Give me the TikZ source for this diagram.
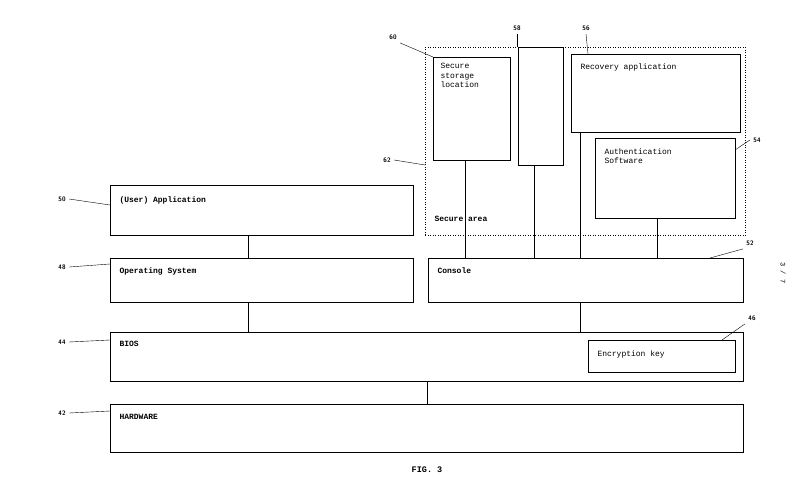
\documentclass[tikz,border=0pt]{standalone}
\usepackage{fontspec}
\setmainfont{Liberation Mono}
\usetikzlibrary{positioning}
\tikzset{
  blk/.style={draw, line width=0.5pt, anchor=north west, inner sep=0pt},
  txt/.style={anchor=north west, font=\fontsize{8}{9.5}\selectfont, align=left},
  btxt/.style={txt, font=\bfseries\fontsize{8}{9.5}\selectfont},
  num/.style={font=\bfseries\fontsize{6.5}{7}\selectfont\sffamily},
  lead/.style={line width=0.4pt}
}
\begin{document}
\begin{tikzpicture}[x=1pt,y=-1pt]
    \useasboundingbox (0,0) rectangle (800,490);
    % Secure area
    \node[blk, dotted, line width=0.9pt, minimum width=320pt, minimum height=188pt] (sec) at (425,47) {};
    \node[btxt] at (431,213) {Secure area};
    \node[blk, minimum width=77pt, minimum height=103pt] (sto) at (433,57) {};
    \node[txt] at (437,60) {Secure\\storage\\location};
    \node[blk, minimum width=45pt, minimum height=118pt] (blk58) at (518,47) {};
    \node[blk, minimum width=169pt, minimum height=78pt] (rec) at (571,54) {};
    \node[txt] at (577,60) {Recovery application};
    \node[blk, minimum width=140pt, minimum height=80pt] (auth) at (595,138) {};
    \node[txt] at (601,145) {Authentication\\Software};
    % Layers
    \node[blk, minimum width=303pt, minimum height=50pt] (app) at (110,185) {};
    \node[btxt] at (116,193) {(User) Application};
    \node[blk, minimum width=303pt, minimum height=44pt] (os) at (110,258) {};
    \node[btxt] at (116,264) {Operating System};
    \node[blk, minimum width=315pt, minimum height=44pt] (con) at (428,258) {};
    \node[btxt] at (434,264) {Console};
    \node[blk, minimum width=633pt, minimum height=49pt] (bios) at (110,332) {};
    \node[btxt] at (116,338) {BIOS};
    \node[blk, minimum width=147pt, minimum height=32pt] (key) at (588,340) {};
    \node[txt] at (594,347) {Encryption key};
    \node[blk, minimum width=633pt, minimum height=48pt] (hw) at (110,404) {};
    \node[btxt] at (116,411) {HARDWARE};
    % Connections
    \draw[lead] (app.south west) ++(138,0) -- ++(0,23);
    \draw[lead] (os.south west) ++(138,0) -- ++(0,30);
    \draw[lead] (con.south west) ++(152,0) -- ++(0,30);
    \draw[lead] (bios.south west) ++(317,0) -- ++(0,23);
    \draw[lead] (sto.south west) ++(32,0) -- ++(0,98);
    \draw[lead] (blk58.south west) ++(16,0) -- ++(0,93);
    \draw[lead] (rec.south west) ++(9,0) -- ++(0,126);
    \draw[lead] (auth.south west) ++(62,0) -- ++(0,40);
    % Reference numerals
    \node[num] (n50) at (62,199) {50};
    \draw[lead] (n50.east) -- (110,205);
    \node[num] (n48) at (62,267) {48};
    \draw[lead] (n48.east) -- (110,264);
    \node[num] (n44) at (62,342) {44};
    \draw[lead] (n44.east) -- (110,340);
    \node[num] (n42) at (62,413) {42};
    \draw[lead] (n42.east) -- (110,411);
    \node[num] (n60) at (393,37) {60};
    \draw[lead] (n60.south east) -- (sto.north west);
    \node[num] (n58) at (517,28) {58};
    \draw[lead] (n58.south) -- (n58.south |- blk58.north);
    \node[num] (n56) at (586,28) {56};
    \draw[lead] (n56.south) -- (588,54);
    \node[num] (n62) at (387,160) {62};
    \draw[lead] (n62.east) -- (425,165);
    \node[num] (n54) at (757,140) {54};
    \draw[lead] (n54.west) -- (735,150);
    \node[num] (n52) at (750,243) {52};
    \draw[lead] (n52.south west) -- (710,258);
    \node[num] (n46) at (752,318) {46};
    \draw[lead] (n46.south west) -- (722,340);
    \node[font=\bfseries\fontsize{8.5}{10}\selectfont] (fig) at (427,470) {FIG. 3};
    \node[font=\fontsize{7}{8}\selectfont, rotate=-90] (pg) at (783,273) {3 / 7};
\end{tikzpicture}
\end{document}
